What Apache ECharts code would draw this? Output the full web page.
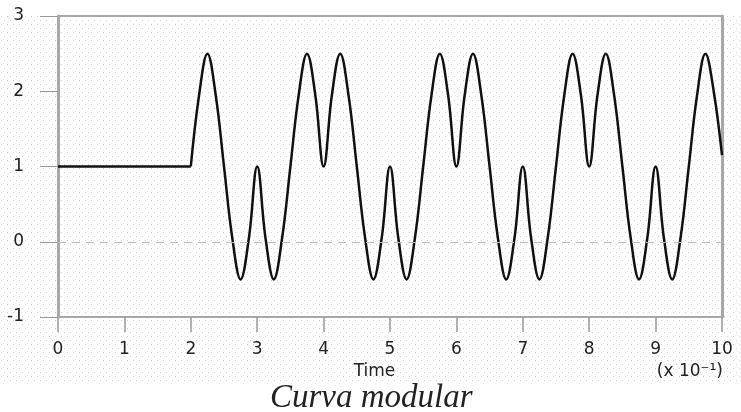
<!DOCTYPE html>
<html>
<head>
<meta charset="utf-8">
<title>Curva modular</title>
<script src="https://cdn.jsdelivr.net/npm/echarts@6/dist/echarts.min.js"></script>
<style>
  html, body { margin: 0; padding: 0; background: #fff; }
  #chart { width: 741px; height: 412px; }
</style>
</head>
<body>
<div id="chart"></div>
<script>
// flat part before the modulation starts
const leadTime = [0, 2];
const leadLevel = [1, 1];

// modulated part, every 1/8 of a unit
const time = [
  2, 2.125, 2.25, 2.375, 2.5, 2.625, 2.75, 2.875,
  3, 3.125, 3.25, 3.375, 3.5, 3.625, 3.75, 3.875,
  4, 4.125, 4.25, 4.375, 4.5, 4.625, 4.75, 4.875,
  5, 5.125, 5.25, 5.375, 5.5, 5.625, 5.75, 5.875,
  6, 6.125, 6.25, 6.375, 6.5, 6.625, 6.75, 6.875,
  7, 7.125, 7.25, 7.375, 7.5, 7.625, 7.75, 7.875,
  8, 8.125, 8.25, 8.375, 8.5, 8.625, 8.75, 8.875,
  9, 9.125, 9.25, 9.375, 9.5, 9.625, 9.75, 9.875,
  10
];
const signal = [
  1, 1.95, 2.5, 1.95, 1, 0.05, -0.5, 0.05,
  1, 0.05, -0.5, 0.05, 1, 1.95, 2.5, 1.95,
  1, 1.95, 2.5, 1.95, 1, 0.05, -0.5, 0.05,
  1, 0.05, -0.5, 0.05, 1, 1.95, 2.5, 1.95,
  1, 1.95, 2.5, 1.95, 1, 0.05, -0.5, 0.05,
  1, 0.05, -0.5, 0.05, 1, 1.95, 2.5, 1.95,
  1, 1.95, 2.5, 1.95, 1, 0.05, -0.5, 0.05,
  1, 0.05, -0.5, 0.05, 1, 1.95, 2.5, 2.0,
  1.15
];

const xTicks = [0, 10, 1];   // min, max, step
const yTicks = [-1, 3, 1];

// dotted paper texture
const dots = document.createElement('canvas');
dots.width = 12; dots.height = 8;
const g = dots.getContext('2d');
g.fillStyle = '#ffffff';
g.fillRect(0, 0, 12, 8);
g.fillStyle = '#cfcfcf';
[[1, 1], [7, 1], [4, 5], [10, 5]].forEach(p => g.fillRect(p[0], p[1], 1, 1));

const frame = '#a8a8a8';
const labelFont = { fontFamily: 'DejaVu Sans', fontSize: 17, color: '#222' };

const chart = echarts.init(document.getElementById('chart'));
chart.setOption({
  animation: false,
  backgroundColor: '#fff',
  graphic: [{
    type: 'rect', left: 0, top: 15, z: -10, silent: true,
    shape: { width: 741, height: 368 },
    style: { fill: { image: dots, repeat: 'repeat' } }
  }],
  title: [
    {
      text: 'Curva modular', left: 265, top: 377,
      textStyle: { fontFamily: 'Liberation Serif', fontStyle: 'italic', fontWeight: 'normal', fontSize: 33, color: '#222' }
    },
    {
      text: '(x 10⁻¹)', right: 18, top: 363, padding: 0,
      textStyle: { fontFamily: 'DejaVu Sans', fontWeight: 'normal', fontSize: 17, color: '#222' }
    }
  ],
  grid: { left: 58, right: 19, top: 16, bottom: 95 },
  xAxis: [
    {
      type: 'value', min: xTicks[0], max: xTicks[1], interval: xTicks[2],
      name: 'Time', nameLocation: 'middle', nameGap: 45,
      nameTextStyle: Object.assign({ padding: [0, 31, 0, 0] }, labelFont),
      axisLine: { onZero: false, lineStyle: { color: frame, width: 2 } },
      axisTick: { length: 15, lineStyle: { color: '#999', width: 1.5 } },
      axisLabel: Object.assign({ margin: 24 }, labelFont),
      splitLine: { show: false }
    },
    {
      type: 'value', position: 'top', min: xTicks[0], max: xTicks[1],
      axisLine: { onZero: false, lineStyle: { color: frame, width: 2 } },
      axisTick: { show: false }, axisLabel: { show: false }, splitLine: { show: false }
    }
  ],
  yAxis: [
    {
      type: 'value', min: yTicks[0], max: yTicks[1], interval: yTicks[2],
      axisLine: { show: true, onZero: false, lineStyle: { color: frame, width: 3 } },
      axisTick: { show: true, length: 18, lineStyle: { color: '#999', width: 1 } },
      axisLabel: Object.assign({ margin: 34 }, labelFont),
      splitLine: { show: false }
    },
    {
      type: 'value', position: 'right', min: yTicks[0], max: yTicks[1],
      axisLine: { show: true, onZero: false, lineStyle: { color: frame, width: 3 } },
      axisTick: { show: false }, axisLabel: { show: false }, splitLine: { show: false }
    }
  ],
  series: [
    {
      type: 'line', showSymbol: false,
      data: leadTime.map((t, i) => [t, leadLevel[i]]),
      lineStyle: { color: '#111', width: 2.5 },
      markLine: {
        silent: true, symbol: 'none', label: { show: false },
        lineStyle: { color: '#bbb', type: [8, 6], width: 1 },
        data: [{ yAxis: 0 }]
      }
    },
    {
      type: 'line', showSymbol: false, smooth: 0.4,
      data: time.map((t, i) => [t, signal[i]]),
      lineStyle: { color: '#111', width: 2.5 }
    }
  ]
});
</script>
</body>
</html>
